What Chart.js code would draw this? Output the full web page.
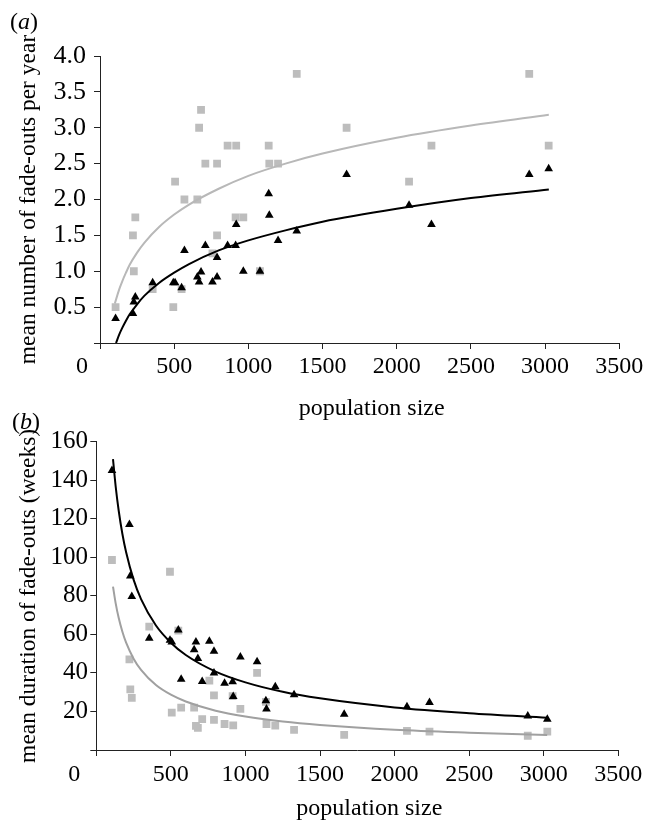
<!DOCTYPE html>
<html><head><meta charset="utf-8">
<script src="https://cdn.jsdelivr.net/npm/chart.js@4.4.1/dist/chart.umd.min.js"></script>
<style>
html,body{margin:0;padding:0;background:#fff;}
#wrap{position:relative;width:657px;height:820px;overflow:hidden;background:#fff;}
canvas{position:absolute;left:0;}
#ca{top:0;} #cb{top:400px;}
</style></head><body>
<div id="wrap"><canvas id="ca" width="657" height="430"></canvas><canvas id="cb" width="657" height="420"></canvas></div>
<script>
// ---- data ----
const population = [105, 222, 228, 238, 355, 494, 506, 550, 569, 656, 668, 681, 710, 758, 789, 789, 860, 914, 918, 966, 1078, 1137, 1141, 1200, 1326, 1662, 2083, 2234, 2893, 3024];
const fadeGreyA  = [0.5, 1.5, 1.0, 1.75, 0.75, 0.5, 2.25, 0.75, 2.0, 2.0, 3.0, 3.25, 2.5, 1.25, 2.5, 1.5, 2.75, 1.75, 2.75, 1.75, 1.0, 2.75, 2.5, 2.5, 3.75, 3.0, 2.25, 2.75, 3.75, 2.75];
const fadeBlackA = [0.34, 0.41, 0.57, 0.64, 0.84, 0.84, 0.84, 0.77, 1.29, 0.92, 0.85, 0.99, 1.36, 0.85, 0.92, 1.19, 1.36, 1.36, 1.65, 1.0, 1.0, 2.08, 1.78, 1.43, 1.56, 2.35, 1.92, 1.65, 2.35, 2.43];
const durGreyB   = [98.6, 47, 31.5, 27, 64, 92.5, 19.4, 62, 22, 22, 12.5, 11.5, 16, 36, 28.4, 15.6, 13.5, 28, 12.8, 21.3, 40, 25, 13.5, 12.7, 10.4, 7.8, 9.9, 9.5, 7.4, 9.5];
const durBlackB  = [145, 117, 90.3, 79.6, 58, 57, 56, 62.3, 36.7, 52, 56, 47.5, 35.5, 56.4, 51.3, 40, 34.7, 35.4, 27.8, 48.2, 45.8, 25.6, 21.3, 32.8, 28.7, 18.5, 22.5, 24.6, 17.6, 15.9];

// fitted trend lines
const fitXGreyA  = [100, 130, 150, 175, 200, 250, 300, 400, 500, 600, 800, 1000, 1250, 1500, 2000, 2500, 3025];
const fitGreyA   = [0.55, 0.75, 0.86, 0.98, 1.09, 1.26, 1.40, 1.62, 1.79, 1.93, 2.15, 2.33, 2.50, 2.64, 2.86, 3.03, 3.18];
const fitXBlackA = [108, 130, 150, 175, 200, 250, 300, 400, 500, 600, 800, 1000, 1250, 1500, 2000, 2500, 3025];
const fitBlackA  = [0.0, 0.12, 0.21, 0.31, 0.40, 0.54, 0.66, 0.84, 0.98, 1.10, 1.29, 1.43, 1.57, 1.69, 1.87, 2.02, 2.14];
const fitXB      = [112, 130, 150, 175, 200, 250, 300, 400, 500, 600, 800, 1000, 1250, 1500, 2000, 2500, 3023];
const fitBlackB  = [151, 136.7, 124.3, 112.1, 102.6, 88.4, 78.3, 64.6, 55.7, 49.3, 40.7, 35.1, 30.2, 26.8, 22.1, 19.1, 16.8];
const fitGreyB   = [84.8, 76.1, 68.6, 61.4, 55.7, 47.4, 41.6, 33.7, 28.7, 25.2, 20.4, 17.4, 14.8, 13.0, 10.5, 9.0, 7.8];

// ticks
const xTicks  = [0, 500, 1000, 1500, 2000, 2500, 3000, 3500];
const yTicksA = [0, 0.5, 1.0, 1.5, 2.0, 2.5, 3.0, 3.5, 4.0];
const yTicksB = [0, 20, 40, 60, 80, 100, 120, 140, 160];

const xTitle = 'population size';
const yTitleA = 'mean number of fade-outs per year';
const yTitleB = 'mean duration of fade-outs (weeks)';

// ---- helpers ----
const FAM = "'Liberation Serif', 'Times New Roman', serif";
const pts = (xs, ys) => xs.map((x, i) => ({x: x, y: ys[i]}));

function decor(label, opts) {
  return {
    id: 'decor',
    afterDraw(chart) {
      const ctx = chart.ctx, xs = chart.scales.x;
      ctx.save();
      ctx.fillStyle = '#000';
      // panel label (a)/(b)
      ctx.textAlign = 'left'; ctx.textBaseline = 'alphabetic';
      let x = opts.labelX;
      ctx.font = '24px ' + FAM; ctx.fillText('(', x, 29); x += ctx.measureText('(').width;
      ctx.font = 'italic 24px ' + FAM; ctx.fillText(label, x, 29); x += ctx.measureText(label).width;
      ctx.font = '24px ' + FAM; ctx.fillText(')', x, 29);
      // origin "0"
      ctx.textAlign = 'center'; ctx.textBaseline = 'middle';
      ctx.font = '24px ' + FAM;
      ctx.fillText('0', xs.left - opts.zeroOff, xs.top + 6 + opts.tickPad + 14.4);
      // x-axis title
      ctx.fillText(xTitle, (xs.left + xs.right) / 2 + 12, opts.titleY);
      ctx.restore();
    }
  };
}

function makeChart(id, cfg) {
  const xAxis = {
    type: 'linear', min: 0, max: 3500,
    afterBuildTicks: s => { s.ticks = xTicks.map(v => ({value: v})); },
    afterFit: s => { s.height = cfg.xHeight; },
    ticks: { autoSkip: false, maxRotation: 0, padding: cfg.tickPad, color: '#000',
             font: {family: FAM, size: 24}, callback: v => v === 0 ? '' : String(v) },
    grid: { drawOnChartArea: false, drawTicks: true, tickLength: 6, color: '#222', lineWidth: 1 },
    border: { display: true, color: '#222', width: 1 },
    title: { display: false }
  };
  const yAxis = {
    type: 'linear', min: 0, max: cfg.yMax,
    afterBuildTicks: s => { s.ticks = cfg.yTicks.map(v => ({value: v})); },
    afterFit: s => { s.width = cfg.yWidth; },
    ticks: { padding: cfg.yPad, color: '#000', font: {family: FAM, size: cfg.yFont},
             callback: v => v === 0 ? '' : cfg.fmt(v) },
    grid: { drawOnChartArea: false, drawTicks: true, tickLength: 6, color: '#222', lineWidth: 1 },
    border: { display: true, color: '#222', width: 1 },
    title: { display: true, text: cfg.yTitle, color: '#000', font: {family: FAM, size: 23.5},
             padding: {top: 15, bottom: 0} }
  };
  return new Chart(document.getElementById(id), {
    type: 'scatter',
    data: { datasets: [
      { label: 'black', data: pts(population, cfg.black), pointStyle: 'triangle', pointRadius: 5,
        backgroundColor: '#000', borderColor: '#000', borderWidth: 0, showLine: false },
      { label: 'black fit', data: pts(cfg.fitXBlack, cfg.fitBlack), showLine: true, pointRadius: 0,
        borderColor: '#000', borderWidth: 2, cubicInterpolationMode: 'monotone', fill: false },
      { label: 'grey fit', data: pts(cfg.fitXGrey, cfg.fitGrey), showLine: true, pointRadius: 0,
        borderColor: cfg.greyLine, borderWidth: 2, cubicInterpolationMode: 'monotone', fill: false },
      { label: 'grey', data: pts(population, cfg.grey), pointStyle: 'rect', pointRadius: 5.5,
        backgroundColor: '#bdbdbd', borderColor: '#bdbdbd', borderWidth: 0, showLine: false }
    ]},
    options: {
      responsive: false, animation: false, devicePixelRatio: 1,
      layout: { padding: { left: 0, top: cfg.top, right: cfg.right, bottom: 0 } },
      plugins: { legend: {display: false}, tooltip: {enabled: false} },
      scales: { x: xAxis, y: yAxis }
    },
    plugins: [decor(cfg.label, {labelX: cfg.labelX, zeroOff: cfg.zeroOff, tickPad: cfg.tickPad, titleY: cfg.titleY})]
  });
}

makeChart('ca', {
  label: 'a', labelX: 10, zeroOff: 18, titleY: 409,
  top: 56, right: 37.7, xHeight: 87, yWidth: 100, tickPad: 3.3, yPad: 8, yFont: 26,
  yMax: 4, yTicks: yTicksA, fmt: v => v.toFixed(1), yTitle: yTitleA,
  grey: fadeGreyA, black: fadeBlackA,
  fitXGrey: fitXGreyA, fitGrey: fitGreyA, fitXBlack: fitXBlackA, fitBlack: fitBlackA,
  greyLine: '#b8b8b8'
});
makeChart('cb', {
  label: 'b', labelX: 12, zeroOff: 22, titleY: 409,
  top: 41.7, right: 38.7, xHeight: 70, yWidth: 96.3, tickPad: 4, yPad: 2.3, yFont: 25,
  yMax: 160, yTicks: yTicksB, fmt: v => String(v), yTitle: yTitleB,
  grey: durGreyB, black: durBlackB,
  fitXGrey: fitXB, fitGrey: fitGreyB, fitXBlack: fitXB, fitBlack: fitBlackB,
  greyLine: '#a0a0a0'
});
</script>
</body></html>
